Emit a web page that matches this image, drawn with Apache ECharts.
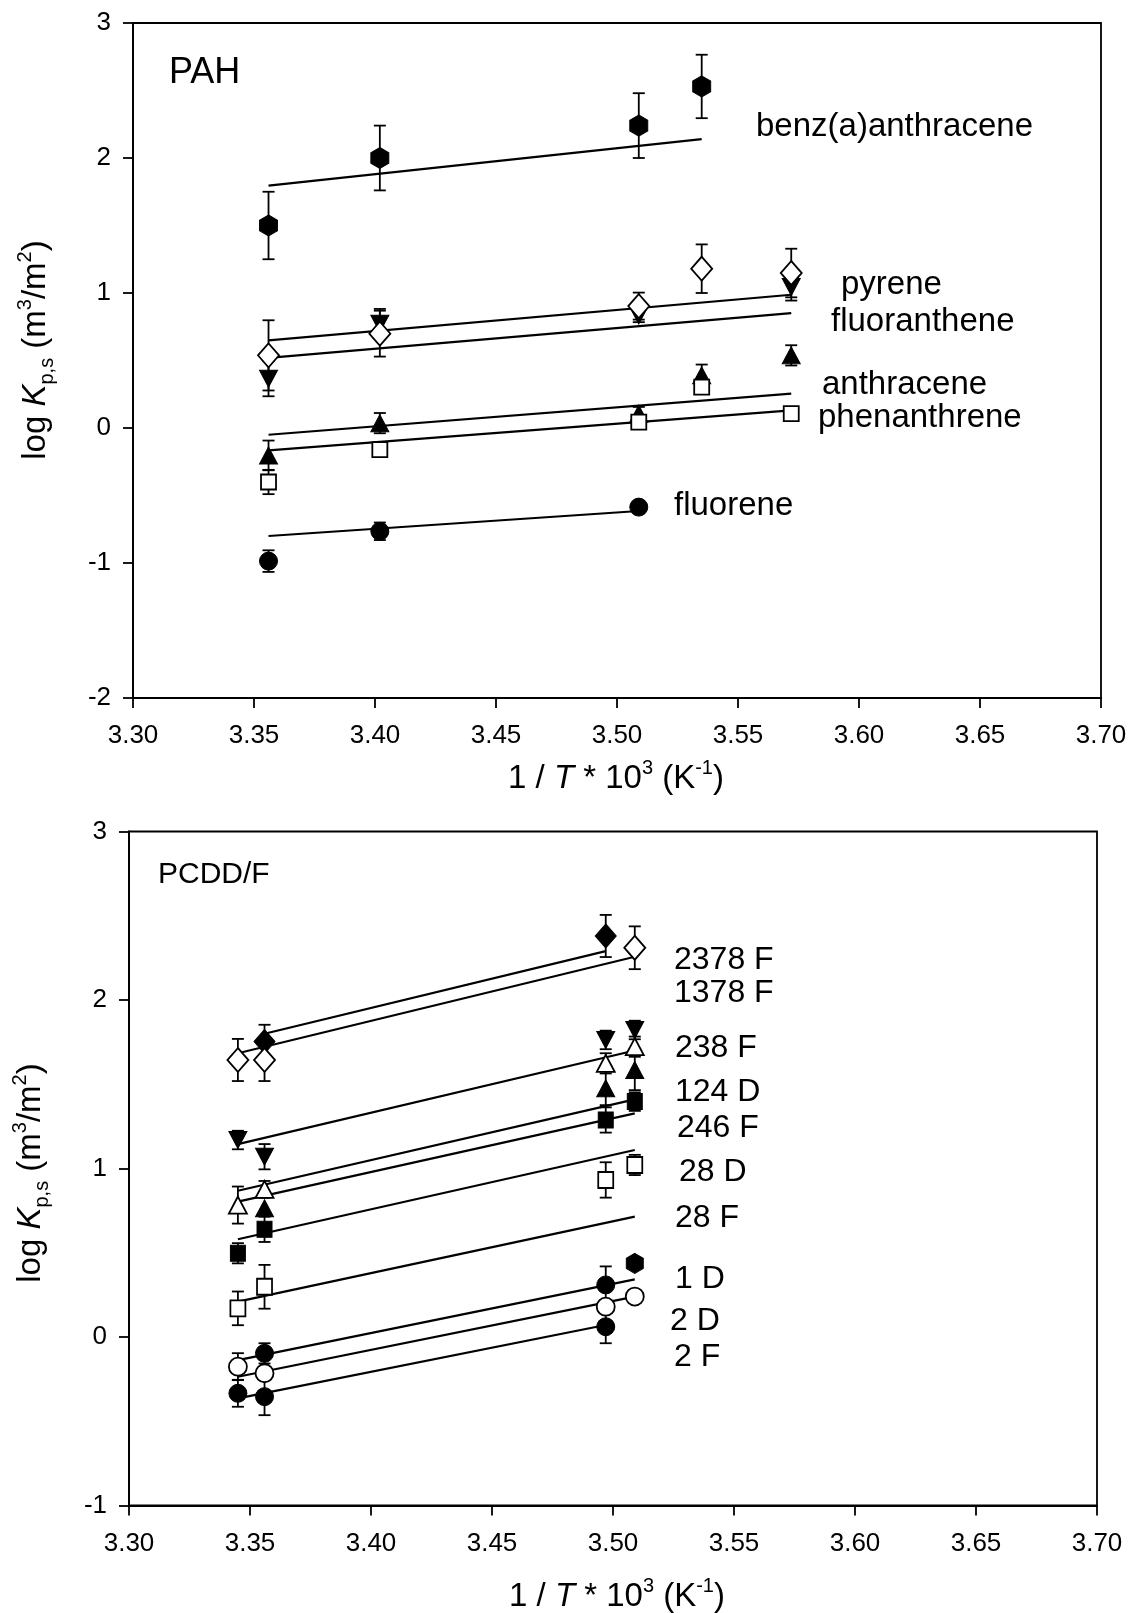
<!DOCTYPE html>
<html>
<head>
<meta charset="utf-8">
<script src="https://cdn.jsdelivr.net/npm/echarts@6/dist/echarts.min.js"></script>
<style>
html,body{margin:0;padding:0;background:#fff}
#c{width:1134px;height:1613px}
</style>
</head>
<body>
<div id="c"></div>
<script>
// ================= DATA =================
// ---- Upper panel: PAH ----
const PAH_X = [3.356, 3.402, 3.509, 3.535, 3.572];
const BENZ = [1.50, 2.00, 2.24, 2.53, null];
const BENZ_ERR = [0.25, 0.24, 0.24, 0.235, null];
const PYRENE = [0.365, 0.772, 0.834, null, 1.044];
const PYRENE_ERR = [0.13, 0.11, 0.05, null, 0.10];
const FLUORANTHENE = [0.538, 0.699, 0.903, 1.18, 1.148];
const FLUORANTHENE_ERR = [0.26, 0.17, 0.10, 0.18, 0.18];
const ANTHRACENE = [-0.203, 0.036, 0.106, 0.39, 0.538];
const ANTHRACENE_ERR = [0.11, 0.075, 0.05, 0.08, 0.075];
const PHENANTHRENE = [-0.40, -0.16, 0.044, 0.303, 0.106];
const PHENANTHRENE_ERR = [0.09, 0, 0.03, 0, 0];
const FLUORENE = [-0.986, -0.765, -0.586, null, null];
const FLUORENE_ERR = [0.08, 0.065, 0.03, null, null];
// regression lines (end points)
const BENZ_FIT = [[3.356, 1.796], [3.535, 2.140]];
const PYRENE_FIT = [[3.356, 0.649], [3.572, 0.987]];
const FLUORANTHENE_FIT = [[3.356, 0.520], [3.572, 0.851]];
const ANTHRACENE_FIT = [[3.356, -0.050], [3.572, 0.254]];
const PHENANTHRENE_FIT = [[3.356, -0.166], [3.572, 0.130]];
const FLUORENE_FIT = [[3.356, -0.800], [3.509, -0.615]];
const PAH_LABELS = ['benz(a)anthracene', 'pyrene', 'fluoranthene', 'anthracene', 'phenanthrene', 'fluorene'];

// ---- Lower panel: PCDD/F ----
const PCDD_X = [3.345, 3.356, 3.497, 3.509];
const F2378 = [null, 1.753, 2.38, null];
const F2378_ERR = [null, 0.10, 0.125, null];
const F1378 = [1.644, 1.644, null, 2.31];
const F1378_ERR = [0.125, 0.125, null, 0.127];
const F238 = [1.169, 1.07, 1.763, 1.822];
const F238_ERR = [0.055, 0.075, 0.055, 0.055];
const D124 = [0.783, 0.876, 1.624, 1.723];
const D124_ERR = [0.11, 0.05, 0.06, 0.06];
const F246 = [null, 0.764, 1.476, 1.585];
const F246_ERR = [null, 0, 0.10, 0.12];
const D28 = [0.497, 0.639, 1.288, 1.397];
const D28_ERR = [0.06, 0.075, 0.075, 0.055];
const F28 = [0.17, 0.298, 0.932, 1.021];
const F28_ERR = [0.10, 0.13, 0.105, 0.06];
const D1 = [null, -0.097, 0.309, null];
const D1_ERR = [null, 0.06, 0.11, null];
const D1_EXTRA = [null, null, null, 0.437];
const D2 = [-0.176, -0.215, 0.18, 0.24];
const D2_ERR = [0.08, 0, 0, 0];
const F2 = [-0.334, -0.354, 0.061, null];
const F2_ERR = [0.08, 0.11, 0.098, null];
const F2378_FIT = [[3.356, 1.800], [3.497, 2.290]];
const F1378_FIT = [[3.345, 1.684], [3.509, 2.257]];
const F238_FIT = [[3.345, 1.145], [3.509, 1.700]];
const D124_FIT = [[3.345, 0.868], [3.509, 1.410]];
const F246_FIT = [[3.345, 0.803], [3.509, 1.327]];
const D28_FIT = [[3.345, 0.580], [3.509, 1.110]];
const F28_FIT = [[3.345, 0.210], [3.509, 0.714]];
const D1_FIT = [[3.345, -0.137], [3.509, 0.342]];
const D2_FIT = [[3.345, -0.236], [3.509, 0.240]];
const F2_FIT = [[3.345, -0.364], [3.497, 0.071]];
const PCDD_LABELS = ['2378 F', '1378 F', '238 F', '124 D', '246 F', '28 D', '28 F', '1 D', '2 D', '2 F'];

const X_TICKS = {min: 3.30, max: 3.70, step: 0.05};
const PAH_Y = {min: -2, max: 3, step: 1};
const PCDD_Y = {min: -1, max: 3, step: 1};

// ================= CHART =================
const FONT = '"Liberation Sans", Arial, Helvetica, sans-serif';
const HEX = 'path://M0,-1 L0.866,-0.5 L0.866,0.5 L0,1 L-0.866,0.5 L-0.866,-0.5 Z';
const FILLED = {color: '#000', borderColor: '#000', borderWidth: 1, opacity: 1};
const OPEN = {color: '#fff', borderColor: '#000', borderWidth: 1.8, opacity: 1};

function pts(xs, ys) {
  const out = [];
  xs.forEach((x, i) => { if (ys[i] != null) out.push([x, ys[i]]); });
  return out;
}
function errPts(xs, ys, es) {
  const out = [];
  xs.forEach((x, i) => { if (ys[i] != null && es[i]) out.push([x, ys[i] - es[i], ys[i] + es[i]]); });
  return out;
}
function errRender(params, api) {
  const x = api.value(0), lo = api.value(1), hi = api.value(2);
  const p1 = api.coord([x, hi]), p2 = api.coord([x, lo]);
  const w = 6;
  const st = {stroke: '#000', lineWidth: 1.8};
  return {type: 'group', children: [
    {type: 'line', shape: {x1: p1[0], y1: p1[1], x2: p2[0], y2: p2[1]}, style: st},
    {type: 'line', shape: {x1: p1[0] - w, y1: p1[1], x2: p1[0] + w, y2: p1[1]}, style: st},
    {type: 'line', shape: {x1: p2[0] - w, y1: p2[1], x2: p2[0] + w, y2: p2[1]}, style: st}
  ]};
}

const series = [];
function addGroup(g, name, xs, ys, es, fit, sym) {
  series.push({
    type: 'line', name: name + ' fit', xAxisIndex: g, yAxisIndex: g, data: fit,
    symbol: 'none', lineStyle: {color: '#000', width: 2.2, opacity: 1}, z: 2, silent: true
  });
  if (es) {
    series.push({
      type: 'custom', name: name + ' err', xAxisIndex: g, yAxisIndex: g,
      data: errPts(xs, ys, es), encode: {x: 0, y: [1, 2]}, renderItem: errRender, z: 3, silent: true
    });
  }
  series.push(Object.assign({
    type: 'scatter', name: name, xAxisIndex: g, yAxisIndex: g, data: pts(xs, ys), z: 4, silent: true
  }, sym));
}

// PAH
addGroup(0, PAH_LABELS[0], PAH_X, BENZ, BENZ_ERR, BENZ_FIT, {symbol: HEX, symbolSize: [18, 21], itemStyle: FILLED});
addGroup(0, PAH_LABELS[1], PAH_X, PYRENE, PYRENE_ERR, PYRENE_FIT, {symbol: 'triangle', symbolRotate: 180, symbolSize: [18, 17], itemStyle: FILLED});
addGroup(0, PAH_LABELS[2], PAH_X, FLUORANTHENE, FLUORANTHENE_ERR, FLUORANTHENE_FIT, {symbol: 'diamond', symbolSize: [21, 24], itemStyle: OPEN});
addGroup(0, PAH_LABELS[3], PAH_X, ANTHRACENE, ANTHRACENE_ERR, ANTHRACENE_FIT, {symbol: 'triangle', symbolSize: [18, 17], itemStyle: FILLED});
addGroup(0, PAH_LABELS[4], PAH_X, PHENANTHRENE, PHENANTHRENE_ERR, PHENANTHRENE_FIT, {symbol: 'rect', symbolSize: 15, itemStyle: OPEN});
addGroup(0, PAH_LABELS[5], PAH_X, FLUORENE, FLUORENE_ERR, FLUORENE_FIT, {symbol: 'circle', symbolSize: 18, itemStyle: FILLED});

// PCDD/F
addGroup(1, PCDD_LABELS[0], PCDD_X, F2378, F2378_ERR, F2378_FIT, {symbol: 'diamond', symbolSize: [21, 24], itemStyle: FILLED});
addGroup(1, PCDD_LABELS[1], PCDD_X, F1378, F1378_ERR, F1378_FIT, {symbol: 'diamond', symbolSize: [21, 24], itemStyle: OPEN});
addGroup(1, PCDD_LABELS[2], PCDD_X, F238, F238_ERR, F238_FIT, {symbol: 'triangle', symbolRotate: 180, symbolSize: [18, 17], itemStyle: FILLED});
addGroup(1, PCDD_LABELS[3], PCDD_X, D124, D124_ERR, D124_FIT, {symbol: 'triangle', symbolSize: [18, 17], itemStyle: OPEN});
addGroup(1, PCDD_LABELS[4], PCDD_X, F246, F246_ERR, F246_FIT, {symbol: 'triangle', symbolSize: [18, 17], itemStyle: FILLED});
addGroup(1, PCDD_LABELS[5], PCDD_X, D28, D28_ERR, D28_FIT, {symbol: 'rect', symbolSize: [15, 16], itemStyle: FILLED});
addGroup(1, PCDD_LABELS[6], PCDD_X, F28, F28_ERR, F28_FIT, {symbol: 'rect', symbolSize: [15, 16], itemStyle: OPEN});
addGroup(1, PCDD_LABELS[7], PCDD_X, D1, D1_ERR, D1_FIT, {symbol: 'circle', symbolSize: 18, itemStyle: FILLED});
series.push({type: 'scatter', name: '1 D (hexagon)', xAxisIndex: 1, yAxisIndex: 1, data: pts(PCDD_X, D1_EXTRA),
  symbol: HEX, symbolSize: [17, 20], itemStyle: FILLED, z: 4, silent: true});
addGroup(1, PCDD_LABELS[8], PCDD_X, D2, D2_ERR, D2_FIT, {symbol: 'circle', symbolSize: 18, itemStyle: OPEN});
addGroup(1, PCDD_LABELS[9], PCDD_X, F2, F2_ERR, F2_FIT, {symbol: 'circle', symbolSize: 18, itemStyle: FILLED});

function xAxis(g) {
  return {
    type: 'value', gridIndex: g, min: X_TICKS.min, max: X_TICKS.max, interval: X_TICKS.step,
    axisLine: {show: true, onZero: false, lineStyle: {color: '#000', width: 2}},
    axisTick: {show: true, length: 10, lineStyle: {color: '#000', width: 1.8}},
    axisLabel: {color: '#000', fontSize: 26, fontFamily: FONT, margin: 25, formatter: v => v.toFixed(2)},
    splitLine: {show: false}
  };
}
function yAxis(g, r) {
  return {
    type: 'value', gridIndex: g, min: r.min, max: r.max, interval: r.step,
    axisLine: {show: true, onZero: false, lineStyle: {color: '#000', width: 1.8}},
    axisTick: {show: true, length: 10, lineStyle: {color: '#000', width: 1.8}},
    axisLabel: {color: '#000', fontSize: 26, fontFamily: FONT, margin: 22, formatter: v => String(v)},
    splitLine: {show: false}
  };
}

const RICH = {
  n: {fontSize: 33, fontFamily: FONT, lineHeight: 42, color: '#000'},
  i: {fontSize: 33, fontFamily: FONT, fontStyle: 'italic', lineHeight: 42, color: '#000'},
  sup: {fontSize: 20, fontFamily: FONT, lineHeight: 20, verticalAlign: 'top', color: '#000'},
  sub: {fontSize: 20, fontFamily: FONT, lineHeight: 20, verticalAlign: 'bottom', color: '#000'}
};
const X_TITLE = '{n|1 / }{i|T}{n| * 10}{sup|3}{n| (K}{sup|-1}{n|)}';
const Y_TITLE = '{n|log }{i|K}{sub|p,s}{n| (m}{sup|3}{n|/m}{sup|2}{n|)}';

function txt(s, x, y, size) {
  return {type: 'text', x: x, y: y, z: 10, silent: true,
    style: {text: s, fill: '#000', fontSize: size || 32, fontFamily: FONT, align: 'left', verticalAlign: 'middle'}};
}
function title(s, x, y, rot) {
  return {type: 'text', x: x, y: y, rotation: rot || 0, z: 10, silent: true,
    style: {text: s, rich: RICH, fill: '#000', fontSize: 33, fontFamily: FONT, align: 'center', verticalAlign: 'middle'}};
}

const graphic = [
  txt('PAH', 169, 73, 36),
  txt(PAH_LABELS[0], 756, 127, 33),
  txt(PAH_LABELS[1], 841, 285, 33),
  txt(PAH_LABELS[2], 831, 322, 33),
  txt(PAH_LABELS[3], 822, 385, 33),
  txt(PAH_LABELS[4], 818, 418, 33),
  txt(PAH_LABELS[5], 674, 506, 33),
  txt('PCDD/F', 158, 875, 30),
  txt(PCDD_LABELS[0], 674, 960),
  txt(PCDD_LABELS[1], 674, 993),
  txt(PCDD_LABELS[2], 675, 1048),
  txt(PCDD_LABELS[3], 675, 1092),
  txt(PCDD_LABELS[4], 677, 1128),
  txt(PCDD_LABELS[5], 679, 1172),
  txt(PCDD_LABELS[6], 675, 1218),
  txt(PCDD_LABELS[7], 675, 1279),
  txt(PCDD_LABELS[8], 670, 1321),
  txt(PCDD_LABELS[9], 674, 1357),
  title(X_TITLE, 616, 779),
  title(X_TITLE, 617, 1597),
  title(Y_TITLE, 36, 350, Math.PI / 2),
  title(Y_TITLE, 31, 1173, Math.PI / 2)
];

const chart = echarts.init(document.getElementById('c'), null, {renderer: 'canvas'});
chart.setOption({
  backgroundColor: '#fff',
  animation: false,
  textStyle: {fontFamily: FONT},
  grid: [
    {left: 133, top: 23, width: 968, height: 675, show: true, borderColor: '#000', borderWidth: 1.8, backgroundColor: 'transparent'},
    {left: 129, top: 831.5, width: 968, height: 674, show: true, borderColor: '#000', borderWidth: 1.8, backgroundColor: 'transparent'}
  ],
  xAxis: [xAxis(0), xAxis(1)],
  yAxis: [yAxis(0, PAH_Y), yAxis(1, PCDD_Y)],
  series: series,
  graphic: graphic
});
</script>
</body>
</html>
